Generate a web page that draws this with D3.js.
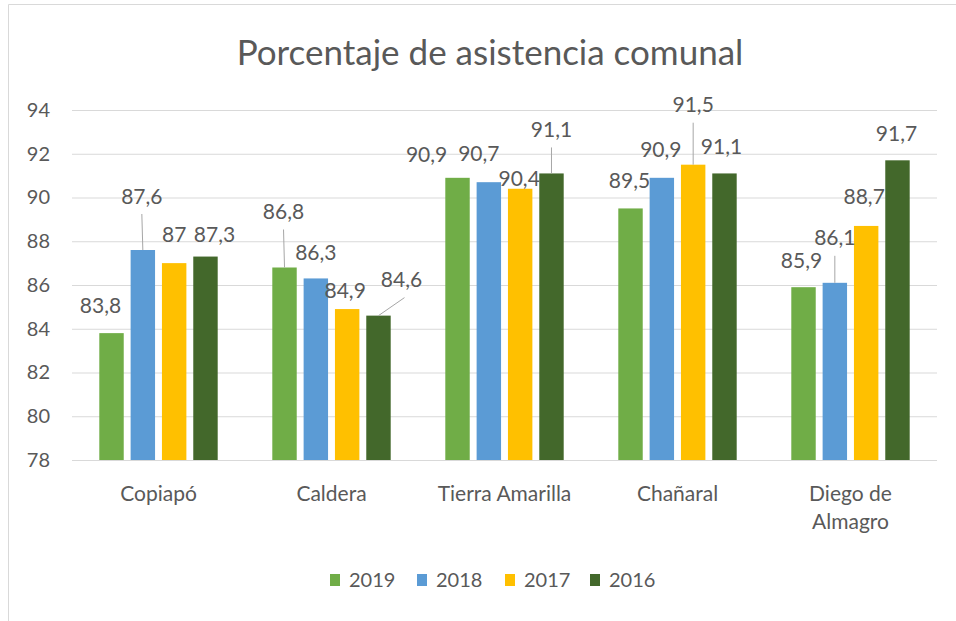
<!DOCTYPE html>
<html>
<head>
<meta charset="utf-8">
<script src="https://cdn.jsdelivr.net/npm/d3@7"></script>
<style>
  html, body { margin: 0; padding: 0; background: #fff; }
  svg text { font-family: Lato, "Open Sans", sans-serif; fill: #595959; }
</style>
</head>
<body>
<svg id="chart" width="956" height="621"></svg>
<script>
var categories = ['Copiapó', 'Caldera', 'Tierra Amarilla', 'Chañaral', 'Diego de Almagro'];
var seriesNames = ['2019', '2018', '2017', '2016'];
var v2019 = [83.8, 86.8, 90.9, 89.5, 85.9];
var v2018 = [87.6, 86.3, 90.7, 90.9, 86.1];
var v2017 = [87.0, 84.9, 90.4, 91.5, 88.7];
var v2016 = [87.3, 84.6, 91.1, 91.1, 91.7];
var yTicks = [78, 80, 82, 84, 86, 88, 90, 92, 94];
var title = 'Porcentaje de asistencia comunal';

var colors = { '2019': '#70ad47', '2018': '#5b9bd5', '2017': '#ffc000', '2016': '#43682b' };

// label nudges (px) per series, per category: [dx, dy] from bar top centre; third item = leader line
var nudges = {
  '2019': [[-11, -28], [-1, -56, 1], [-31, -23], [-1, -28], [-2, -27]],
  '2018': [[-1, -54, 1], [0, -26], [-10, -29], [-1, -28], [0, -45, 1]],
  '2017': [[0, -29], [-2, -19], [-1, -10], [0, -60, 1], [-2, -29]],
  '2016': [[9, -22], [23, -36, 1], [0, -44, 1], [-3, -27], [-1, -27]]
};

var rows = categories.map(function(c, i) {
  return { cat: c, i: i, values: [
    { s: '2019', v: v2019[i] }, { s: '2018', v: v2018[i] },
    { s: '2017', v: v2017[i] }, { s: '2016', v: v2016[i] }
  ] };
});

var svg = d3.select('#chart');
var L = 72, R = 937, T = 110, B = 460;

// border (top + left only visible in the crop)
svg.append('line').attr('x1', 8.5).attr('y1', 4.5).attr('x2', 956).attr('y2', 4.5).attr('stroke', '#d9d9d9');
svg.append('line').attr('x1', 8.5).attr('y1', 4.5).attr('x2', 8.5).attr('y2', 621).attr('stroke', '#d9d9d9');

svg.append('text').attr('x', 490).attr('y', 65).attr('text-anchor', 'middle')
  .attr('font-size', '35px').text(title);

var x0 = d3.scaleBand().domain(categories).range([L, R]);
var groupW = 118.4;
var x1 = d3.scaleBand().domain(seriesNames)
  .range([(x0.bandwidth() - groupW) / 2, (x0.bandwidth() + groupW) / 2]).paddingInner(0.22);
var y = d3.scaleLinear().domain([78, 94]).range([B, T]);

var yAxis = svg.append('g').attr('transform', 'translate(' + L + ',0)')
  .call(d3.axisLeft(y).tickValues(yTicks).tickSize(-(R - L)).tickPadding(22).tickFormat(d3.format('d')));
yAxis.select('.domain').remove();
yAxis.selectAll('.tick line').attr('stroke', '#d9d9d9').attr('stroke-width', 1);
yAxis.selectAll('.tick text').attr('font-size', '20px').attr('fill', '#595959').style('font-family', 'Lato');

var xAxis = svg.append('g').attr('transform', 'translate(0,' + B + ')')
  .call(d3.axisBottom(x0).tickSize(0).tickPadding(26));
xAxis.select('.domain').remove();
xAxis.selectAll('.tick text').attr('font-size', '21px').attr('fill', '#595959').style('font-family', 'Lato')
  .each(function(d) {
    var t = d3.select(this);
    if (this.getComputedTextLength() > 155) {
      var words = d.split(' ');
      var first = words.slice(0, words.length - 1).join(' ');
      var last = words[words.length - 1];
      t.text(null);
      t.append('tspan').attr('x', 0).attr('dy', '0.71em').text(first);
      t.append('tspan').attr('x', 0).attr('dy', '1.35em').text(last);
      t.attr('dy', null);
    }
  });

var groups = svg.append('g').selectAll('g').data(rows).enter().append('g')
  .attr('transform', function(d) { return 'translate(' + x0(d.cat) + ',0)'; });

groups.selectAll('rect').data(function(d) { return d.values; }).enter().append('rect')
  .attr('x', function(d) { return x1(d.s); })
  .attr('y', function(d) { return y(d.v); })
  .attr('width', x1.bandwidth())
  .attr('height', function(d) { return y(78) - y(d.v); })
  .attr('fill', function(d) { return colors[d.s]; });

var fmt = function(v) { return d3.format('~g')(v).replace('.', ','); };

groups.each(function(row) {
  var g = d3.select(this);
  row.values.forEach(function(d) {
    var n = nudges[d.s][row.i];
    var cx = x1(d.s) + x1.bandwidth() / 2, top = y(d.v);
    var lx = cx + n[0], ly = top + n[1];
    if (n[2]) {
      g.append('line').attr('x1', lx + (n[0] > 10 ? 3 : 0)).attr('y1', ly + 18)
        .attr('x2', cx).attr('y2', top).attr('stroke', '#a6a6a6').attr('stroke-width', 1);
    }
    g.append('text').attr('x', lx).attr('y', ly).attr('dy', '0.36em').attr('text-anchor', 'middle')
      .attr('font-size', '21px').text(fmt(d.v));
  });
});

// legend
var legX = [330, 417, 505, 590];
var leg = svg.append('g').selectAll('g').data(seriesNames).enter().append('g')
  .attr('transform', function(d, i) { return 'translate(' + legX[i] + ',574)'; });
leg.append('rect').attr('width', 10).attr('height', 12).attr('fill', function(d) { return colors[d]; });
leg.append('text').attr('x', 19).attr('y', 6).attr('dy', '0.36em').attr('font-size', '20px').text(function(d) { return d; });
</script>
</body>
</html>
